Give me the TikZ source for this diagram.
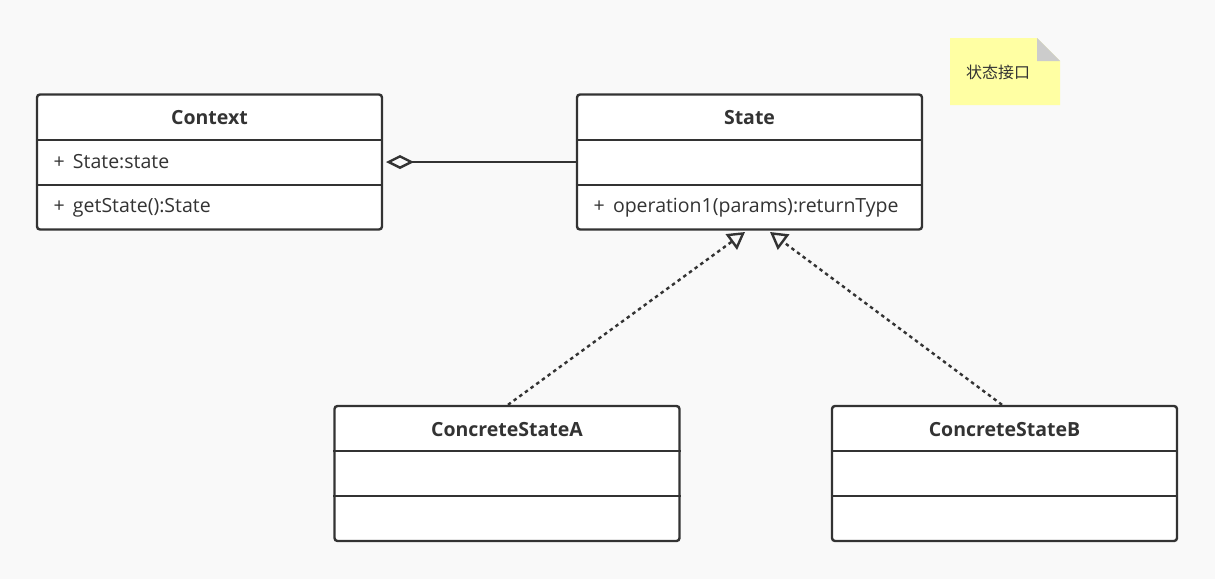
\documentclass[tikz,border=0pt]{standalone}
\usepackage{fontspec}
\setmainfont{Open Sans}
\newfontfamily\cjk{Noto Sans CJK SC}
\usetikzlibrary{arrows.meta}
\definecolor{bg}{HTML}{F9F9F9}
\definecolor{ln}{HTML}{333333}
\definecolor{notey}{HTML}{FFFFA3}
\definecolor{fold}{HTML}{CCCCCC}
\tikzset{
  classbox/.style={draw=ln, line width=2.4pt, rounded corners=3pt, fill=white, minimum width=345pt, minimum height=135pt, inner sep=0pt},
  divider/.style={draw=ln, line width=2.4pt},
  title/.style={font=\fontsize{19.5}{23}\selectfont\bfseries, text=ln},
  member/.style={font=\fontsize{19.5}{23}\selectfont, text=ln, anchor=west},
  conn/.style={draw=ln, line width=2.4pt},
  realize/.style={conn, dash pattern=on 3.5pt off 3.5pt, -{Triangle[open, length=17pt, width=19pt, line width=2.4pt, sharp]}},
}
\begin{document}
\begin{tikzpicture}[x=1pt,y=-1pt]
\useasboundingbox[fill=bg] (0,0) rectangle (1215,579);
% Note
\path[fill=notey] (950,38) -- (1037,38) -- (1060,61) -- (1060,105) -- (950,105) -- cycle;
\path[fill=fold] (1037,38) -- (1060,61) -- (1037,61) -- cycle;
\node[font=\cjk\fontsize{16}{19}\selectfont, text=ln] (note) at (998,72) {状态接口};
% Context
\node[classbox] (ctx) at (209.5,162) {};
\draw[divider] (ctx.west |- 0,140) -- (ctx.east |- 0,140);
\draw[divider] (ctx.west |- 0,185) -- (ctx.east |- 0,185);
\node[title] (ctxt) at (209.5,117.5) {Context};
\node[member] (ctxa) at (50,162) {+\, State:state};
\node[member] (ctxm) at (50,208) {+\, getState():State};
% State
\node[classbox] (st) at (749.5,162) {};
\draw[divider] (st.west |- 0,140) -- (st.east |- 0,140);
\draw[divider] (st.west |- 0,185) -- (st.east |- 0,185);
\node[title] (stt) at (749.5,117.5) {State};
\node[member] (stm) at (590,208) {+\, operation1(params):returnType};
% ConcreteStateA
\node[classbox] (ca) at (507,473.5) {};
\draw[divider] (ca.west |- 0,451) -- (ca.east |- 0,451);
\draw[divider] (ca.west |- 0,496) -- (ca.east |- 0,496);
\node[title] (cat) at (507,430) {ConcreteStateA};
% ConcreteStateB
\node[classbox] (cb) at (1004.5,473.5) {};
\draw[divider] (cb.west |- 0,451) -- (cb.east |- 0,451);
\draw[divider] (cb.west |- 0,496) -- (cb.east |- 0,496);
\node[title] (cbt) at (1004.5,430) {ConcreteStateB};
% Aggregation
\coordinate (aggtip) at (386,162);
\draw[conn, {Diamond[open, length=28pt, width=14pt, line width=2.4pt]}-] (aggtip) -- (st.west |- aggtip);
% Realizations
\coordinate (ta) at (745,232);
\coordinate (tb) at (770,232);
\draw[realize] (ca.north -| 508,0) -- (ta);
\draw[realize] (cb.north -| 1002,0) -- (tb);
\end{tikzpicture}
\end{document}
